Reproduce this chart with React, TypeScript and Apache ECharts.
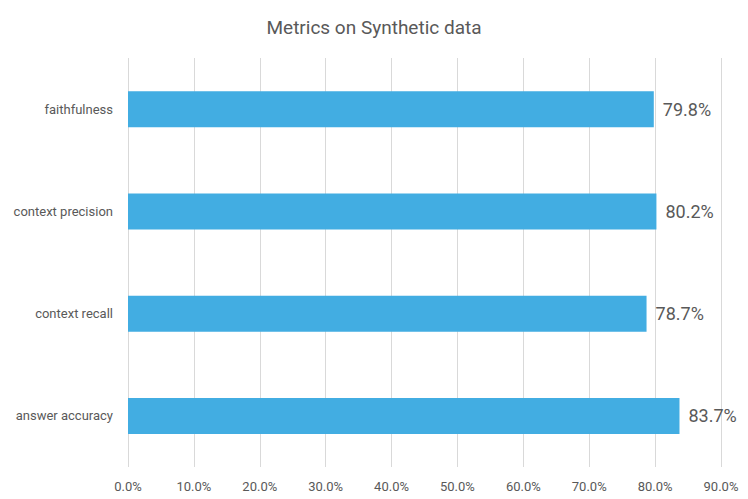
import React, { useEffect, useRef } from "react";
import * as echarts from "echarts";

const categories = ["faithfulness", "context precision", "context recall", "answer accuracy"];
const values = [79.8, 80.2, 78.7, 83.7];
const xTicks = { min: 0, max: 90, interval: 10 };
const titleText = "Metrics on Synthetic data";

export default function App() {
  const ref = useRef<HTMLDivElement>(null);
  useEffect(() => {
    if (!ref.current) return;
    const chart = echarts.init(ref.current, null, { renderer: "svg" });
    chart.setOption({
      animation: false,
      backgroundColor: "#ffffff",
      title: {
        text: titleText,
        left: "center",
        top: 13,
        textStyle: { fontFamily: "Roboto", fontSize: 19, fontWeight: "normal", color: "#595959" },
      },
      grid: { left: 128, right: 27, top: 58, bottom: 32, containLabel: false },
      xAxis: {
        type: "value",
        min: xTicks.min,
        max: xTicks.max,
        interval: xTicks.interval,
        axisLine: { show: false },
        axisTick: { show: false },
        splitLine: { show: true, lineStyle: { color: "#D9D9D9", width: 1 } },
        axisLabel: {
          margin: 13,
          fontFamily: "Roboto",
          fontSize: 13,
          color: "#595959",
          formatter: (v: number) => v.toFixed(1) + "%",
        },
      },
      yAxis: {
        type: "category",
        data: categories,
        inverse: true,
        axisLine: { show: false },
        axisTick: { show: false },
        axisLabel: { margin: 15, fontFamily: "Roboto", fontSize: 13, color: "#595959" },
      },
      series: [
        {
          type: "bar",
          data: values,
          barWidth: 36,
          itemStyle: { color: "#42ADE2" },
          label: {
            show: true,
            position: "right",
            distance: 9,
            fontFamily: "Roboto",
            fontSize: 18,
            color: "#595959",
            formatter: (p: any) => p.value.toFixed(1) + "%",
          },
        },
      ],
    });
    return () => chart.dispose();
  }, []);
  return <div ref={ref} style={{ width: 748, height: 499, position: "absolute", left: 0, top: 0 }} />;
}
